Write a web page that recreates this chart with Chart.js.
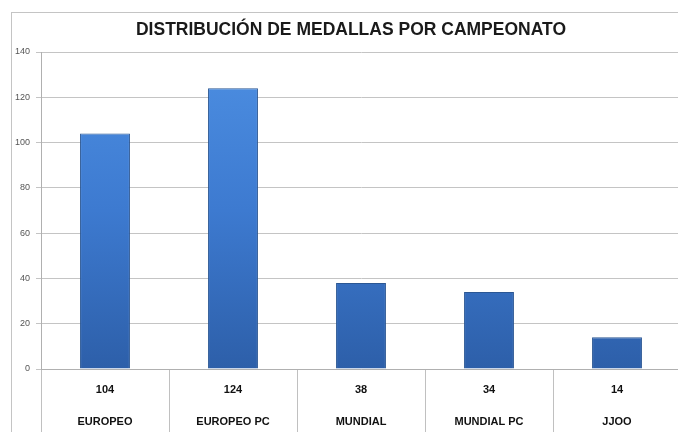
<!DOCTYPE html>
<html>
<head>
<meta charset="utf-8">
<script src="https://cdn.jsdelivr.net/npm/chart.js@4/dist/chart.umd.min.js"></script>
<style>
  html, body { margin: 0; padding: 0; background: #fff; overflow: hidden; }
  #wrap { width: 678px; height: 432px; position: relative; overflow: hidden; }
</style>
</head>
<body>
<div id="wrap"><canvas id="medallas" width="702" height="432"></canvas></div>
<script>
var titulo = "DISTRIBUCIÓN DE MEDALLAS POR CAMPEONATO"
var campeonatos = ["EUROPEO", "EUROPEO PC", "MUNDIAL", "MUNDIAL PC", "JJOO"]
var medallas = [104, 124, 38, 34, 14]
var yMax = 140
var yPaso = 20

var ctx = document.getElementById("medallas")

// marco gris y titulo (el lienzo es mas ancho y se recorta a 678)
var marco = {
  id: "marco",
  beforeDraw: function (chart) {
    var c = chart.ctx
    c.save()
    c.strokeStyle = "#c4c4c4"
    c.lineWidth = 1
    c.strokeRect(11.5, 12.5, 720, 500)
    c.fillStyle = "#1a1a1a"
    c.font = "bold 17.5px 'Liberation Sans', Arial, sans-serif"
    c.textAlign = "center"
    c.textBaseline = "middle"
    c.fillText(titulo, 351, 30)
    c.restore()
  }
}

function colorBarra(context) {
  var chart = context.chart
  var area = chart.chartArea
  if (!area) return "#3c7bd0"
  var g = chart.ctx.createLinearGradient(0, area.top, 0, area.bottom)
  g.addColorStop(0, "#4d8fe2")
  g.addColorStop(0.5, "#3d7ad0")
  g.addColorStop(1, "#2d5fa9")
  return g
}

var config = {
  type: "bar",
  data: {
    labels: campeonatos,
    datasets: [
      {
        data: medallas,
        backgroundColor: colorBarra,
        borderColor: "#2b5794",
        borderWidth: 1,
        barPercentage: 0.39,
        categoryPercentage: 1
      }
    ]
  },
  options: {
    responsive: false,
    animation: false,
    layout: { padding: { left: 0, right: 21, top: 52, bottom: 0 } },
    plugins: {
      legend: { display: false },
      tooltip: { enabled: false },
      title: { display: false }
    },
    scales: {
      x: {
        grid: {
          offset: true,
          drawOnChartArea: false,
          color: "#c0c0c0",
          tickLength: 70
        },
        border: { color: "#b0b0b0" },
        ticks: {
          autoSkip: false,
          maxRotation: 0,
          padding: -65,
          color: "#111",
          font: { family: "'Liberation Sans', Arial, sans-serif", size: 11, weight: "bold", lineHeight: 2.9 },
          callback: function (value, index) {
            return [String(medallas[index]), campeonatos[index]]
          }
        },
        afterFit: function (scale) {
          scale.height = 63
        }
      },
      y: {
        min: 0,
        max: yMax,
        ticks: {
          stepSize: yPaso,
          padding: 6,
          color: "#555",
          font: { family: "'Liberation Sans', Arial, sans-serif", size: 9 }
        },
        grid: {
          color: "#c4c4c4",
          tickLength: 5
        },
        border: { color: "#b0b0b0" },
        afterFit: function (scale) {
          scale.width = 41
        }
      }
    }
  },
  plugins: [marco]
}

var grafico = new Chart(ctx, config)
</script>
</body>
</html>
